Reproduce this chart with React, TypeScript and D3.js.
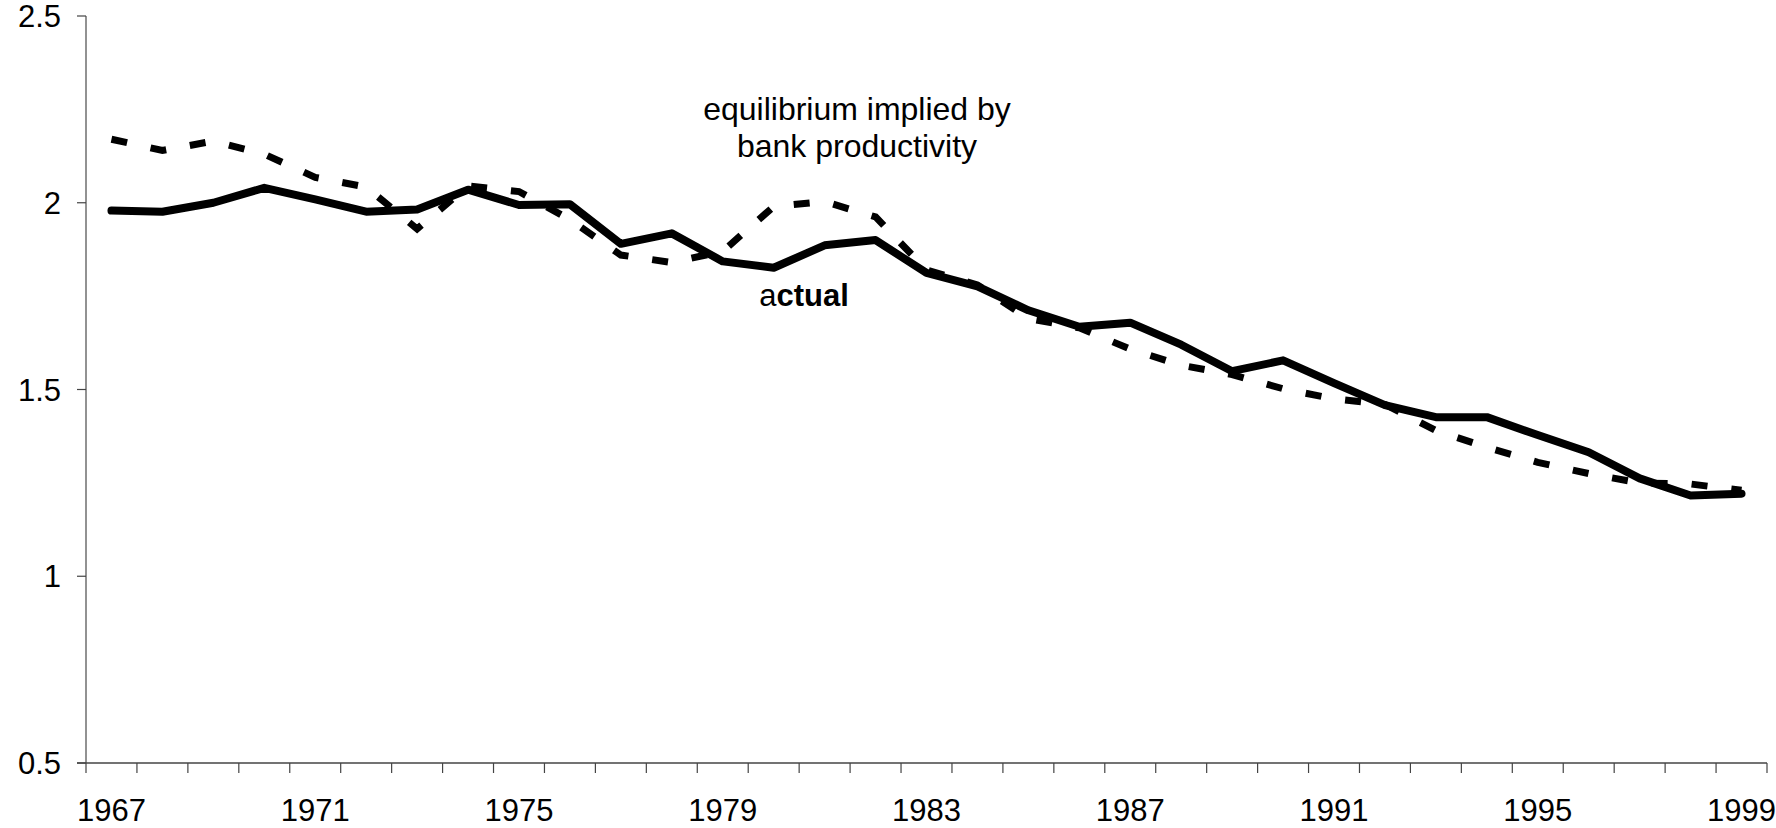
import React from "react";
import * as d3 from "d3";

const years: number[] = [
  1967, 1968, 1969, 1970, 1971, 1972, 1973, 1974, 1975, 1976, 1977,
  1978, 1979, 1980, 1981, 1982, 1983, 1984, 1985, 1986, 1987, 1988,
  1989, 1990, 1991, 1992, 1993, 1994, 1995, 1996, 1997, 1998, 1999,
];

const actual: number[] = [
  1.979, 1.976, 2.0, 2.04, 2.009, 1.976, 1.982, 2.035, 1.994, 1.996, 1.89,
  1.918, 1.843, 1.826, 1.886, 1.9, 1.812, 1.776, 1.712, 1.668, 1.679, 1.62,
  1.549, 1.578, 1.517, 1.458, 1.426, 1.426, 1.378, 1.332, 1.262, 1.216, 1.221,
];

const equilibrium: number[] = [
  2.17, 2.14, 2.165, 2.13, 2.068, 2.042, 1.93, 2.045, 2.03, 1.955, 1.86,
  1.84, 1.87, 1.99, 2.003, 1.962, 1.82, 1.78, 1.69, 1.665, 1.608, 1.565,
  1.54, 1.502, 1.475, 1.46, 1.39, 1.345, 1.305, 1.275, 1.25, 1.247, 1.23,
];

const yTicks: number[] = [0.5, 1, 1.5, 2, 2.5];
const labelYears: number[] = [1967, 1971, 1975, 1979, 1983, 1987, 1991, 1995, 1999];

const W = 1776;
const H = 828;
const FONT = "'Liberation Sans', Arial, sans-serif";

export default function App() {
  const left = 86;
  const right = 1767;
  const top = 16;
  const bottom = 763;

  const x = d3
    .scaleBand<number>()
    .domain(years)
    .range([left, right])
    .paddingInner(0)
    .paddingOuter(0);
  const y = d3.scaleLinear().domain([0.5, 2.5]).range([bottom, top]);

  const cx = (yr: number) => (x(yr) as number) + x.bandwidth() / 2;

  const lineGen = d3
    .line<number>()
    .x((_, i) => cx(years[i]))
    .y((d) => y(d));

  const boundaries = years.map((yr) => x(yr) as number).concat([right]);

  return (
    <svg
      width={W}
      height={H}
      style={{ position: "absolute", left: 0, top: 0, background: "#fff" }}
      fontFamily={FONT}
    >
      {/* Y axis */}
      <line x1={left} x2={left} y1={top} y2={bottom} stroke="#777" strokeWidth={1.6} />
      {yTicks.map((t) => (
        <g key={t}>
          <line x1={left - 9} x2={left} y1={y(t)} y2={y(t)} stroke="#444" strokeWidth={1.2} />
          <text
            x={61}
            y={y(t)}
            dy="0.36em"
            textAnchor="end"
            fontSize={31}
            fill="#000"
          >
            {String(t)}
          </text>
        </g>
      ))}

      {/* X axis */}
      <line x1={left - 9} x2={right} y1={bottom} y2={bottom} stroke="#444" strokeWidth={1.4} />
      {boundaries.map((b, i) => (
        <line key={i} x1={b} x2={b} y1={bottom} y2={bottom + 10} stroke="#444" strokeWidth={1.2} />
      ))}
      {labelYears.map((yr) => (
        <text
          key={yr}
          x={cx(yr)}
          y={821}
          textAnchor="middle"
          fontSize={31}
          fill="#000"
        >
          {String(yr)}
        </text>
      ))}

      {/* Series */}
      <path
        d={lineGen(equilibrium) || ""}
        fill="none"
        stroke="#000"
        strokeWidth={7}
        strokeDasharray="16 24"
        strokeLinejoin="miter"
      />
      <path
        d={lineGen(actual) || ""}
        fill="none"
        stroke="#000"
        strokeWidth={8}
        strokeLinejoin="round"
        strokeLinecap="round"
      />

      {/* Annotations */}
      <text x={857} y={120} textAnchor="middle" fontSize={32} fill="#000">
        equilibrium implied by
      </text>
      <text x={857} y={157} textAnchor="middle" fontSize={32} fill="#000">
        bank productivity
      </text>
      <text x={804} y={306} textAnchor="middle" fontSize={31} fill="#000">
        a<tspan fontWeight="bold">ctual</tspan>
      </text>
    </svg>
  );
}
